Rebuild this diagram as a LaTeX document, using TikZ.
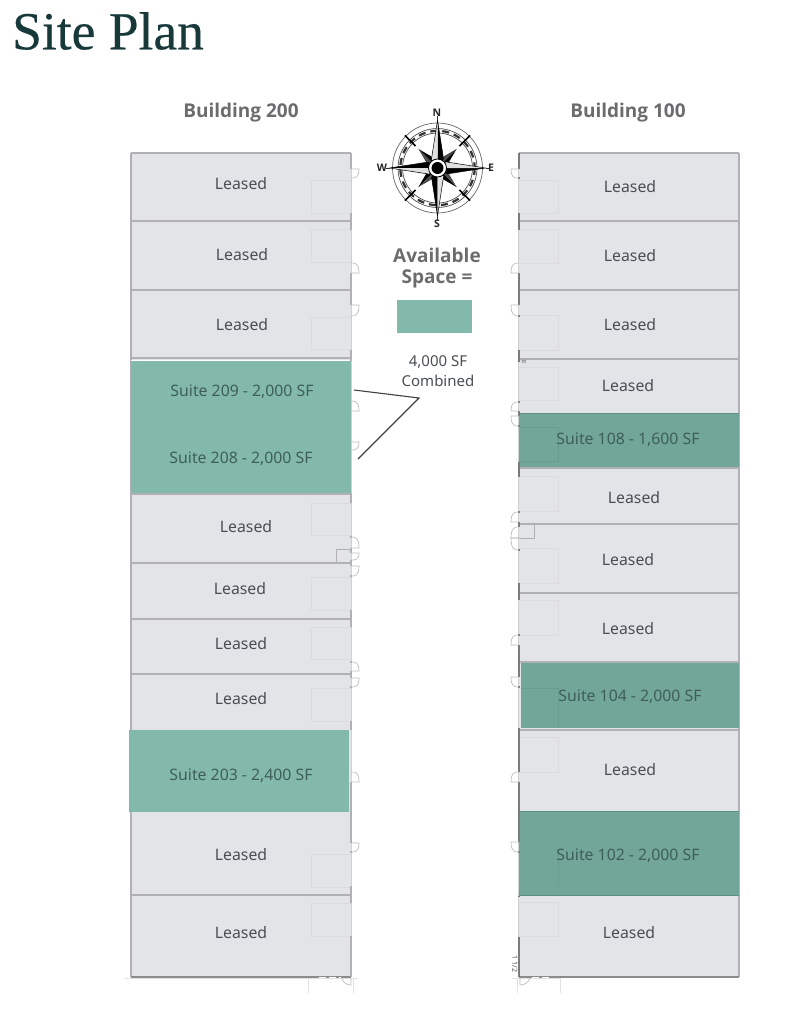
\documentclass[tikz,border=0pt]{standalone}
\usepackage{fontspec}
\setmainfont{Noto Sans}
\newfontfamily\titlefont[FakeBold=0.4]{Liberation Serif}
\newfontfamily\headfont{Open Sans}
\definecolor{roomfill}{HTML}{E3E4E8}
\definecolor{greenA}{HTML}{83B9AB}
\definecolor{greenB}{HTML}{72A698}
\definecolor{greenEdge}{HTML}{5C8F82}
\definecolor{wallgrey}{HTML}{B0B0B5}
\definecolor{wallthin}{HTML}{CFCFD4}
\definecolor{walldark}{HTML}{7A7A80}
\definecolor{officeline}{HTML}{DADADF}
\definecolor{doorline}{HTML}{BCBCC1}
\definecolor{labeltext}{HTML}{4A4F55}
\definecolor{suitetext}{HTML}{3E5F5A}
\definecolor{headtext}{HTML}{6C6C6E}
\definecolor{titleink}{HTML}{17393A}
\tikzset{
  lease/.style={text=labeltext,font=\fontsize{15.8}{18}\selectfont,inner sep=0pt,yshift=-1pt},
  suitelabel/.style={text=suitetext,font=\fontsize{15.8}{18}\selectfont,inner sep=0pt,yshift=-1.5pt},
  head/.style={text=headtext,font=\headfont\fontsize{19}{24}\bfseries\selectfont,inner sep=0pt,yshift=-1.5pt},
  note/.style={text=labeltext,font=\fontsize{15.2}{18}\selectfont,inner sep=0pt},
  office/.style={draw=officeline,line width=0.7pt},
  sep/.style={draw=wallgrey,line width=1.8pt},
  doorleaf/.style={draw=doorline,line width=0.7pt},
  wallseg/.style={draw=wallgrey,line width=2.2pt},
  walldk/.style={draw=walldark,line width=1.2pt},
  compassletter/.style={text=black!85,font=\headfont\fontsize{10.5}{12}\bfseries\selectfont,inner sep=0pt},
  leader/.style={draw=black!75,line width=1.1pt}
}
\begin{document}
\begin{tikzpicture}[x=1pt,y=-1pt]
\useasboundingbox (0,0) rectangle (786,1017);
% title
\node[text=titleink,font=\titlefont\fontsize{53.5}{60}\selectfont,anchor=west,inner sep=0pt] (title) at (12,31) {Site Plan};
% building bodies
\fill[roomfill] (131,153) rectangle (351,977);
\fill[roomfill] (519,153) rectangle (739,977);
% offices, left
\foreach \ya/\yb in {180/213,229/262,317/349,503/535,577/610,627/659,688/721,854/887,903/936}
  {\draw[office] (351,\ya) -- (311,\ya) -- (311,\yb) -- (351,\yb);}
% offices, right
\foreach \ya/\yb in {180/213,229/263,315/350,367/400,476/511,548/583,600/635,737/772,902/936}
  {\draw[office] (519,\ya) -- (558,\ya) -- (558,\yb) -- (519,\yb);}
% separators
\foreach \y in {221,290,358,494,563,619,674,895}
  {\draw[sep] (131,\y) -- (351,\y);}
\foreach \y in {221,290,359,468,524,593,662,730}
  {\draw[sep] (519,\y) -- (739,\y);}
% outer walls
\draw[wallgrey,line width=1.6pt] (131,153) -- (351,153);
\draw[wallgrey,line width=1.6pt] (519,153) -- (739,153);
\draw[wallgrey,line width=1.6pt] (131,153) -- (131,977);
\draw[wallgrey,line width=1.6pt] (739,153) -- (739,977);
\draw[wallthin,line width=0.9pt] (351.5,153) -- (351.5,977);
\draw[wallthin,line width=0.9pt] (518,153) -- (518,977);
\draw[black!45,line width=2pt] (131,977) -- (351,977);
\draw[black!45,line width=2pt] (519,977) -- (739,977);
\draw[white,line width=1pt,dash pattern=on 7pt off 3pt] (319,977) -- (341,977);
\draw[white,line width=1pt,dash pattern=on 7pt off 3pt] (532,977) -- (552,977);
% green suites
\fill[white] (131,359.5) rectangle (351,361);
\fill[greenA] (131,361) rectangle (351,493);
\fill[greenA] (129,730) rectangle (349,812);
\fill[greenB] (519,413) rectangle (739,467);
\fill[greenB] (521,663) rectangle (739,728);
\fill[greenB] (519,811) rectangle (739,896);
\draw[greenEdge,line width=1.5pt] (519,413.5) -- (739,413.5);
\draw[greenEdge,line width=1.5pt] (519,811.5) -- (739,811.5);
\draw[greenEdge,line width=1.8pt] (519,895.5) -- (739,895.5);
\draw[wallgrey,line width=1.5pt] (519,729.5) -- (739,729.5);
% offices seen through the green
\draw[greenEdge!45!greenB,line width=0.6pt] (519,427) -- (558,427) -- (558,461) -- (519,461);
\draw[greenEdge!45!greenB,line width=0.6pt] (521,688) -- (558,688) -- (558,728);
\draw[greenEdge!30!greenB,line width=0.6pt] (558,853) -- (558,887);
% right-hand wall of Building 200
\foreach \ya/\yb in {153/169,213/230,273/305,350/361,493/503,536/538,548/553,560/566,575/577,610/627,661/663,671/678,686/688,721/730,782/843,851/853,886/903,936/977}
  {\draw[wallseg] (351,\ya) -- (351,\yb);}
% left-hand wall of Building 100
\foreach \ya/\yb in {153/169,177/179,213/230,273/305,315/317,350/362,401/403,411/416,425/427,462/477,511/513,522/527,549/551,583/600,634/636,645/677,686/688,728/772,782/842,851/853,896/897,937/977}
  {\draw[walldk] (519,\ya) -- (519,\yb);}
% doors, left
\foreach \ya/\yb in {169/178,273/263,305/316,411/401,442/450,548/537,553/560,566/576,671/662,678/687,782/772,843/852}
  {\draw[doorleaf] (351,\ya) -- (359,\ya) .. controls (359,\yb) and (355,\yb) .. (351,\yb);}
% doors, right
\foreach \ya/\yb in {169/178,273/263,305/316,411/402,416/426,522/512,538/527,538/550,645/635,677/687,782/772,842/852}
  {\draw[doorleaf] (519,\ya) -- (511,\ya) .. controls (511,\yb) and (515,\yb) .. (519,\yb);}
% closets
\draw[wallgrey,line width=1pt] (351,549) -- (336,549) -- (336,563);
\draw[wallgrey,line width=1pt] (519,538) -- (534,538) -- (534,524);
% faint construction lines below the buildings
\draw[wallthin!60,line width=0.5pt] (125,978) -- (358,978);
\draw[wallthin!60,line width=0.5pt] (512,978) -- (560,978);
\foreach \x in {308,353,517,560}
  {\draw[wallthin!60,line width=0.5pt] (\x,978) -- (\x,993);}
\draw[doorleaf] (351,978) -- (351,985) .. controls (347,985) and (343,983) .. (342,978);
\draw[doorleaf] (520,978) -- (520,985) .. controls (524,985) and (528,983) .. (530,978);
\node[rotate=-90,text=black!70,font=\fontsize{7}{8}\selectfont,inner sep=0pt] (dim) at (515,964) {1 1/2};
\node[text=black!60,font=\fontsize{6}{7}\selectfont,inner sep=0pt,rotate=90] (dimb) at (524,362) {8};
% headings
\node[head] (b200) at (241,111) {Building 200};
\node[head] (b100) at (628,111) {Building 100};
% Building 200 labels
\node[lease] (l1) at (241,183) {Leased};
\node[lease] (l2) at (242,254) {Leased};
\node[lease] (l3) at (242,324) {Leased};
\node[suitelabel] (s209) at (242,390) {Suite 209 - 2,000 SF};
\node[suitelabel] (s208) at (241,457) {Suite 208 - 2,000 SF};
\node[lease] (l4) at (246,526) {Leased};
\node[lease] (l5) at (240,588) {Leased};
\node[lease] (l6) at (241,643) {Leased};
\node[lease] (l7) at (241,698) {Leased};
\node[suitelabel] (s203) at (241,774) {Suite 203 - 2,400 SF};
\node[lease] (l8) at (241,854) {Leased};
\node[lease] (l9) at (241,932) {Leased};
% Building 100 labels
\node[lease] (r1) at (630,186) {Leased};
\node[lease] (r2) at (630,255) {Leased};
\node[lease] (r3) at (630,324) {Leased};
\node[lease] (r4) at (628,385) {Leased};
\node[suitelabel] (s108) at (628,438) {Suite 108 - 1,600 SF};
\node[lease] (r5) at (634,497) {Leased};
\node[lease] (r6) at (628,559) {Leased};
\node[lease] (r7) at (628,628) {Leased};
\node[suitelabel] (s104) at (630,695) {Suite 104 - 2,000 SF};
\node[lease] (r8) at (630,769) {Leased};
\node[suitelabel] (s102) at (628,854) {Suite 102 - 2,000 SF};
\node[lease] (r9) at (629,932) {Leased};
% legend
\node[head,align=center,font=\headfont\fontsize{19}{21}\bfseries\selectfont] (avail) at (437,266.5) {Available\\Space =};
\fill[greenA] (397,300) rectangle (472,333);
\node[note,align=center,font=\fontsize{15}{20}\selectfont,yshift=-1pt] (combined) at (438,370) {4,000 SF\\Combined};
% leader
\coordinate (hub) at (419,398);
\coordinate (to209) at (354,390);
\coordinate (to208) at (358,459);
\draw[leader] (to209) -- (hub) -- (to208);
% compass
\begin{scope}[shift={(437.5,168)}]
  \draw[black!60,line width=0.7pt] (0,0) circle (45);
  \draw[black!70,line width=0.7pt] (0,0) circle (39.5);
  \draw[black!70,line width=0.7pt] (0,0) circle (35);
  \draw[black!80,line width=2.2pt,dash pattern=on 7pt off 5pt] (0,0) circle (37.2);
  \foreach \r in {45,135,225,315}
    {\draw[black,line width=1.5pt,rotate=\r] (31,0) -- (46,0);}
  \foreach \r in {45,135,225,315}
    {\begin{scope}[rotate=\r]
      \fill[black!30] (0,0) -- (17,-9) -- (0,-9) -- cycle;
      \fill[black!30] (0,0) -- (17,9) -- (0,9) -- cycle;
      \fill[black] (0,0) -- (27,0) -- (8,5) -- cycle;
      \fill[black!70] (0,0) -- (27,0) -- (8,-5) -- cycle;
    \end{scope}}
  \foreach \r in {0,90,180,270}
    {\begin{scope}[rotate=\r]
      \fill[black] (0,0) -- (48,0) -- (9,6) -- cycle;
      \fill[black!12] (0,0) -- (48,0) -- (9,-6) -- cycle;
      \draw[black,line width=0.5pt] (9,-6) -- (48,0) -- (9,6);
      \draw[black!80,line width=1pt] (48,0) -- (52,0);
    \end{scope}}
  \fill[white] (0,0) circle (9);
  \draw[black,line width=0.8pt] (0,0) circle (9);
  \fill[black] (0,0) circle (6);
\end{scope}
\node[compassletter] (cn) at (437,113) {N};
\node[compassletter] (cs) at (437,224) {S};
\node[compassletter] (cw) at (382,168) {W};
\node[compassletter] (ce) at (491,168) {E};
\end{tikzpicture}
\end{document}
